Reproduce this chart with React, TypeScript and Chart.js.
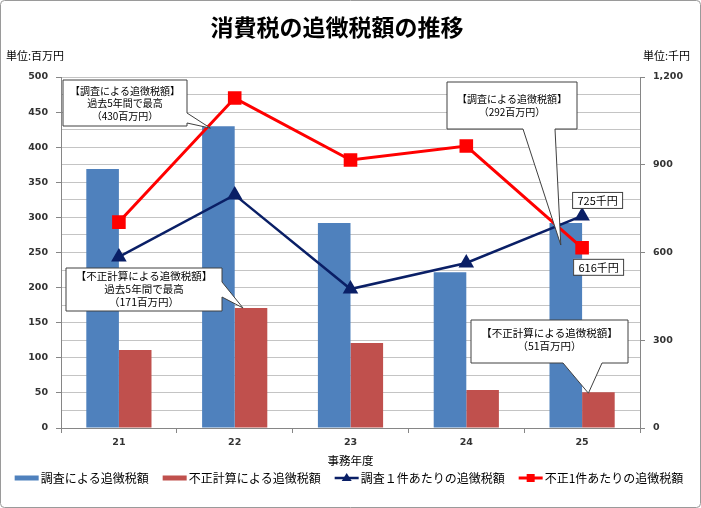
import { useEffect, useRef } from "react";
import { Chart, registerables } from "chart.js";

Chart.register(...registerables);

// ---- data ----
const years = ["21", "22", "23", "24", "25"];
const chosaAmount = [369, 430, 292, 222, 292]; // 百万円
const fuseiAmount = [111, 171, 121, 54, 51]; // 百万円
const chosaPerCase = [585, 797, 475, 564, 725]; // 千円
const fuseiPerCase = [704, 1128, 916, 964, 616]; // 千円
const seriesNames = [
  "調査による追徴税額",
  "不正計算による追徴税額",
  "調査１件あたりの追徴税額",
  "不正1件あたりの追徴税額",
];
const titleText = "消費税の追徴税額の推移";
const leftUnit = "単位:百万円";
const rightUnit = "単位:千円";
const xTitle = "事務年度";
const callout1 = ["【調査による追徴税額】", "過去5年間で最高", "（430百万円）"];
const callout2 = ["【調査による追徴税額】", "（292百万円）"];
const callout3 = ["【不正計算による追徴税額】", "過去5年間で最高", "（171百万円）"];
const callout4 = ["【不正計算による追徴税額】", "（51百万円）"];
const label725 = "725千円";
const label616 = "616千円";

const BLUE = "#4F81BD";
const RED = "#C0504D";
const NAVY = "#0A1F66";
const BRIGHT = "#FF0000";
const JP = '"Noto Sans CJK JP", "Noto Sans", sans-serif';
const NUM = '"DejaVu Sans", sans-serif';

type Pt = [number, number];

function drawPoly(ctx: CanvasRenderingContext2D, pts: Pt[]) {
  ctx.beginPath();
  ctx.moveTo(pts[0][0], pts[0][1]);
  for (let i = 1; i < pts.length; i++) ctx.lineTo(pts[i][0], pts[i][1]);
  ctx.closePath();
  ctx.fillStyle = "#ffffff";
  ctx.fill();
  ctx.strokeStyle = "#404040";
  ctx.lineWidth = 1;
  ctx.stroke();
}

function drawLines(
  ctx: CanvasRenderingContext2D,
  lines: string[],
  cx: number,
  y0: number,
  lh: number,
  font: string
) {
  ctx.font = font;
  ctx.fillStyle = "#000";
  ctx.textAlign = "center";
  ctx.textBaseline = "middle";
  lines.forEach((t, i) => ctx.fillText(t, cx, y0 + i * lh));
}

const overlayPlugin = {
  id: "overlay",
  beforeDraw(chart: any) {
    const ctx = chart.ctx as CanvasRenderingContext2D;
    ctx.save();
    ctx.fillStyle = "#fff";
    ctx.fillRect(0, 0, chart.width, chart.height);
    ctx.restore();
  },
  afterDraw(chart: any) {
    const ctx = chart.ctx as CanvasRenderingContext2D;
    const area = chart.chartArea;
    ctx.save();
    // title
    ctx.fillStyle = "#000";
    ctx.font = `bold 23px ${JP}`;
    ctx.textAlign = "center";
    ctx.textBaseline = "middle";
    ctx.fillText(titleText, 337, 27);
    // units
    ctx.font = `11px ${JP}`;
    ctx.textAlign = "left";
    ctx.fillText(leftUnit, 6, 56);
    ctx.textAlign = "right";
    ctx.fillText(rightUnit, 690, 56);
    // x title
    ctx.textAlign = "center";
    ctx.font = `11.5px ${JP}`;
    ctx.fillText(xTitle, (area.left + area.right) / 2, 461);

    // legend
    ctx.font = `12px ${JP}`;
    const mw = 24;
    const gapT = 2;
    const gapI = 14;
    const widths = seriesNames.map((s) => ctx.measureText(s).width);
    const total =
      widths.reduce((a, b) => a + b, 0) + 4 * (mw + gapT) + 3 * gapI;
    let lx = 349 - total / 2;
    const ly = 478;
    seriesNames.forEach((name, i) => {
      if (i === 0 || i === 1) {
        ctx.fillStyle = i === 0 ? BLUE : RED;
        ctx.fillRect(lx, ly - 2.5, mw, 5);
      } else {
        const col = i === 2 ? NAVY : BRIGHT;
        ctx.strokeStyle = col;
        ctx.lineWidth = i === 2 ? 2.5 : 3;
        ctx.beginPath();
        ctx.moveTo(lx, ly);
        ctx.lineTo(lx + mw, ly);
        ctx.stroke();
        ctx.fillStyle = col;
        const cx = lx + mw / 2;
        if (i === 2) {
          ctx.beginPath();
          ctx.moveTo(cx, ly - 5);
          ctx.lineTo(cx + 5, ly + 3);
          ctx.lineTo(cx - 5, ly + 3);
          ctx.closePath();
          ctx.fill();
        } else {
          ctx.fillRect(cx - 4, ly - 4, 8, 8);
        }
      }
      ctx.fillStyle = "#000";
      ctx.textAlign = "left";
      ctx.textBaseline = "middle";
      ctx.fillText(name, lx + mw + gapT, ly);
      lx += mw + gapT + widths[i] + gapI;
    });

    // callouts anchored at bars
    const bar = (ds: number, idx: number) => chart.getDatasetMeta(ds).data[idx];
    const b1 = bar(0, 1);
    {
      const L = 63, T = 80, R = 187, B = 126;
      const tip: Pt = [b1.x - 8, b1.y + 2];
      drawPoly(ctx, [[L, T], [R, T], [R, 113], tip, [R, 123], [R, B], [L, B]]);
      drawLines(ctx, callout1, (L + R) / 2, 91, 12.5, `10px ${JP}`);
    }
    const b2 = bar(0, 4);
    {
      const L = 447, T = 82, R = 577, B = 129;
      const tip: Pt = [b2.x - 5, b2.y + 22];
      drawPoly(ctx, [[L, T], [R, T], [R, B], [555, B], tip, [523, B], [L, B]]);
      drawLines(ctx, callout2, (L + R) / 2, 99, 13, `10px ${JP}`);
    }
    const b3 = bar(1, 1);
    {
      const L = 66, T = 268, R = 222, B = 311;
      const tip: Pt = [b3.x - 8, b3.y];
      drawPoly(ctx, [[L, T], [R, T], [R, 282], tip, [R, 297], [R, B], [L, B]]);
      drawLines(ctx, callout3, (L + R) / 2, 276, 13, `10.5px ${JP}`);
    }
    const b4 = bar(1, 4);
    {
      const L = 471, T = 320, R = 628, B = 363;
      const tip: Pt = [b4.x - 10, b4.y + 1];
      drawPoly(ctx, [[L, T], [R, T], [R, B], [602, B], tip, [563, B], [L, B]]);
      drawLines(ctx, callout4, (L + R) / 2, 333, 13, `10.5px ${JP}`);
    }

    // data labels for last points
    const p725 = chart.getDatasetMeta(2).data[4];
    const p616 = chart.getDatasetMeta(3).data[4];
    const labelBox = (txt: string, x: number, y: number) => {
      ctx.font = `11px ${JP}`;
      const w = 50, h = 16;
      ctx.fillStyle = "#fff";
      ctx.fillRect(x, y, w, h);
      ctx.strokeStyle = "#404040";
      ctx.lineWidth = 1;
      ctx.strokeRect(x + 0.5, y + 0.5, w, h);
      ctx.fillStyle = "#000";
      ctx.textAlign = "center";
      ctx.textBaseline = "middle";
      ctx.fillText(txt, x + w / 2 + 0.5, y + h / 2 + 0.5);
    };
    labelBox(label725, p725.x - 10, p725.y - 24);
    labelBox(label616, p616.x - 9, p616.y + 11);

    // outer border
    ctx.strokeStyle = "#9a9a9a";
    ctx.lineWidth = 1;
    ctx.beginPath();
    (ctx as any).roundRect
      ? (ctx as any).roundRect(0.5, 0.5, chart.width - 1, chart.height - 1, 4)
      : ctx.rect(0.5, 0.5, chart.width - 1, chart.height - 1);
    ctx.stroke();
    ctx.restore();
  },
};

export default function App() {
  const ref = useRef<HTMLCanvasElement | null>(null);
  useEffect(() => {
    if (!ref.current) return;
    const tickFont = { family: NUM, size: 9.5, weight: "bold" as const };
    const chart = new Chart(ref.current, {
      type: "bar",
      data: {
        labels: years,
        datasets: [
          {
            type: "bar",
            label: seriesNames[0],
            data: chosaAmount,
            backgroundColor: BLUE,
            yAxisID: "y",
            order: 2,
            categoryPercentage: 0.563,
            barPercentage: 1,
          },
          {
            type: "bar",
            label: seriesNames[1],
            data: fuseiAmount,
            backgroundColor: RED,
            yAxisID: "y",
            order: 2,
            categoryPercentage: 0.563,
            barPercentage: 1,
          },
          {
            type: "line",
            label: seriesNames[2],
            data: chosaPerCase,
            borderColor: NAVY,
            backgroundColor: NAVY,
            borderWidth: 2.5,
            pointStyle: "triangle",
            pointRadius: 6.5,
            pointHoverRadius: 6.5,
            yAxisID: "y2",
            order: 1,
            tension: 0,
          },
          {
            type: "line",
            label: seriesNames[3],
            data: fuseiPerCase,
            borderColor: BRIGHT,
            backgroundColor: BRIGHT,
            borderWidth: 3,
            pointStyle: "rect",
            pointRadius: 7.5,
            pointHoverRadius: 7.5,
            yAxisID: "y2",
            order: 0,
            tension: 0,
          },
        ] as any,
      },
      options: {
        animation: false,
        responsive: false,
        devicePixelRatio: 1,
        layout: { padding: { top: 77, left: 0, right: 0, bottom: 0 } },
        plugins: {
          legend: { display: false },
          title: { display: false },
          tooltip: { enabled: false },
        },
        scales: {
          x: {
            offset: true,
            grid: {
              offset: true,
              drawOnChartArea: false,
              tickLength: 5,
              tickColor: "#868686",
            },
            border: { color: "#868686" },
            ticks: { font: tickFont, color: "#333", padding: 4 },
            afterFit: (s: any) => {
              s.height = 80;
            },
          },
          y: {
            position: "left",
            min: 0,
            max: 500,
            ticks: {
              stepSize: 25,
              font: tickFont,
              color: "#333",
              padding: 8,
              callback: (v: any) => (Number(v) % 50 === 0 ? String(v) : ""),
            },
            grid: {
              color: "#c4c4c4",
              tickLength: 5,
              tickColor: (c: any) =>
                c.tick && c.tick.value % 50 === 0 ? "#868686" : "rgba(0,0,0,0)",
            },
            border: { color: "#868686" },
            afterFit: (s: any) => {
              s.width = 61;
            },
          },
          y2: {
            position: "right",
            min: 0,
            max: 1200,
            ticks: {
              stepSize: 300,
              font: tickFont,
              color: "#333",
              padding: 8,
              callback: (v: any) => Number(v).toLocaleString("en-US"),
            },
            grid: { drawOnChartArea: false, tickLength: 5, tickColor: "#868686" },
            border: { color: "#868686" },
            afterFit: (s: any) => {
              s.width = 61;
            },
          },
        },
      } as any,
      plugins: [overlayPlugin],
    });
    return () => chart.destroy();
  }, []);
  return (
    <div style={{ position: "absolute", left: 0, top: 0, width: 701, height: 508 }}>
      <canvas ref={ref} width={701} height={508} style={{ display: "block" }} />
    </div>
  );
}
